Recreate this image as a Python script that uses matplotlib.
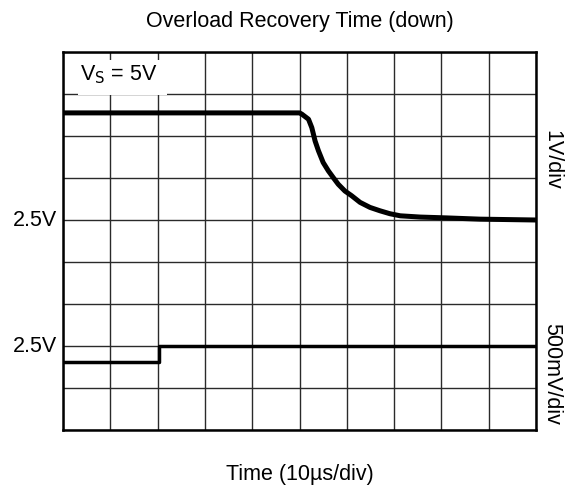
import numpy as np
import matplotlib.pyplot as plt
import matplotlib.transforms as mtransforms
from matplotlib.patches import Rectangle

plt.rcParams['font.family'] = ['Liberation Sans', 'DejaVu Sans']

# output trace (1V/div), time in us, volts
out_t = [0, 50.0, 50.5, 51.9, 52.6, 53.3, 54.0, 55.0, 56.1, 57.2, 58.2, 59.6, 61.0,
         62.8, 64.9, 67.0, 69.1, 71.3, 75.5, 81.1, 88.2, 100.0]
out_v = [5.05, 5.05, 5.02, 4.90, 4.70, 4.38, 4.15, 3.87, 3.67, 3.50, 3.35, 3.19, 3.08,
         2.92, 2.80, 2.72, 2.65, 2.60, 2.57, 2.55, 2.52, 2.50]

# input trace (500mV/div)
in_t = [0, 20.3, 20.3, 100.0]
in_v = [2.31, 2.31, 2.50, 2.50]

out_ref, out_scale, out_row = 2.5, 1.0, 5
in_ref, in_scale, in_row = 2.5, 0.5, 2

fig = plt.figure(figsize=(5.65, 4.86), dpi=100)
ax = fig.add_axes([63 / 565, 1 - 430 / 486, 473 / 565, 378 / 486])

ax.set_xlim(0, 100)
ax.set_ylim(0, 9)
ax.set_xticks(np.arange(0, 101, 10))
ax.set_yticks(np.arange(0, 10, 1))
ax.tick_params(length=0, labelbottom=False, labelleft=False)
ax.grid(True, color='#2a2a2a', lw=1.0)
for s in ax.spines.values():
    s.set_linewidth(1.8)

ax.plot(out_t, [out_row + (v - out_ref) / out_scale for v in out_v],
        color='black', lw=3.6, solid_joinstyle='round', zorder=3)
ax.plot(in_t, [in_row + (v - in_ref) / in_scale for v in in_v],
        color='black', lw=2.5, zorder=3)

trans = mtransforms.blended_transform_factory(fig.transFigure, ax.transData)
ax.text(57 / 565, out_row, '2.5V', transform=trans, ha='right', va='center', fontsize=15.5)
ax.text(57 / 565, in_row, '2.5V', transform=trans, ha='right', va='center', fontsize=15.5)

# white patch behind the supply label
ax.add_patch(Rectangle((3.2, 7.97), 18.8, 0.85, facecolor='white', edgecolor='none', zorder=2.5))
ax.text(3.6, 8.45, r'V$_\mathrm{S}$ = 5V', ha='left', va='center', fontsize=15.5, zorder=4)

fig.text(552 / 565, 1 - 160 / 486, '1V/div', rotation=-90, ha='center', va='center', fontsize=15.5)
fig.text(552 / 565, 1 - 374 / 486, '500mV/div', rotation=-90, ha='center', va='center', fontsize=15.5)

cx = (63 + 536) / 2 / 565
fig.text(cx, 1 - 22 / 486, 'Overload Recovery Time (down)', ha='center', va='center', fontsize=15.5)
fig.text(cx, 1 - 474 / 486, 'Time (10µs/div)', ha='center', va='center', fontsize=15.5)

fig.savefig('out.png', dpi=100)
